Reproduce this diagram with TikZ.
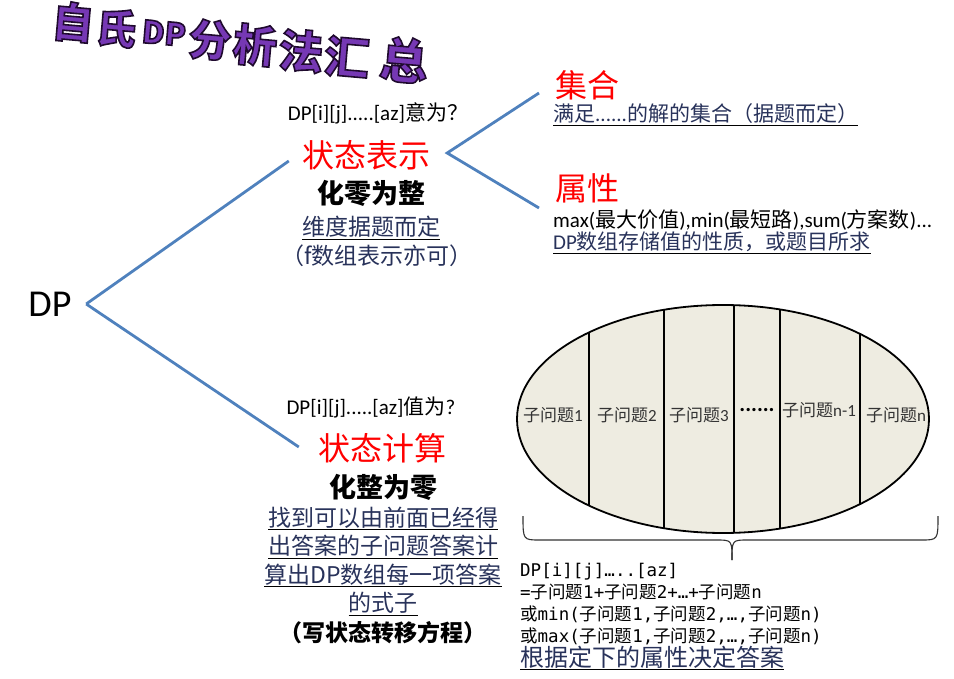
\documentclass[tikz,border=0pt]{standalone}
\usepackage{fontspec}
\setmainfont{Carlito}
\setmonofont{DejaVu Sans Mono}
\newfontfamily\cjk{Noto Sans CJK SC}
\newcommand{\zh}[1]{{\cjk #1}}
\newcommand{\subq}{\zh{子问题}}
\newcommand{\fsz}[2]{\fontsize{#1}{#2}\selectfont}
% outlined letters for the title
\newcommand{\outl}[1]{\special{pdf:literal direct 2 Tr 1.6 w 0.12 0.04 0.18 RG}#1\special{pdf:literal direct 0 Tr}}
\definecolor{lnblue}{RGB}{79,129,189}
\definecolor{txt}{RGB}{40,50,90}
\definecolor{ttl}{RGB}{118,56,180}
\definecolor{oval}{RGB}{238,236,225}
\newcommand{\undl}[1]{\underline{\textcolor{txt}{#1}}}
\begin{document}
\begin{tikzpicture}[x=1pt,y=-1pt,every node/.style={inner sep=0pt},
  br/.style={lnblue,line width=2.8pt},
  hd/.style={text=red,font=\cjk\fsz{32}{36}},
  bd/.style={font=\cjk\bfseries\fsz{27}{30}},
  ul/.style={font=\cjk\fsz{23}{28.5},align=center},
  sm/.style={font=\fsz{21}{24}},
  sq/.style={font=\cjk\fsz{17}{20},text=black!80}]
\useasboundingbox (0,0) rectangle (954,679);
% title
\foreach \ch/\x/\y/\s [count=\i] in {自/73/22/42,氏/116/28/41,DP/164/33/31,分/210/40/43,析/255/45/44,法/301/51/45,汇/347/57/45,总/404/60/48}
  \node[rotate=-5,ttl,font=\cjk\bfseries\fsz{\s}{\s}] (t\i) at (\x,\y) {\outl{\ch}};
% tree
\node[font=\fsz{38}{40}] (dp) at (50,304) {DP};
\node[sm] (repq) at (378,113) {DP[i][j].....[az]\zh{意为？}};
\node[hd] (rep) at (366,155) {状态表示};
\node[bd] (rep1) at (371,193) {化零为整};
\node[ul] (rep2) at (371,228) {\undl{维度据题而定}};
\node[ul,text=txt] (rep3) at (377,256) {（f数组表示亦可）};
\node[hd,anchor=west] (set) at (555,85) {集合};
\node[sm,anchor=west] (set1) at (553,115) {\undl{\zh{满足}......\zh{的解的集合（据题而定）}}};
\node[hd,anchor=west] (attr) at (555,188) {属性};
\node[sm,anchor=west] (attr1) at (553,220) {max(\zh{最大价值}),min(\zh{最短路}),sum(\zh{方案数})...};
\node[sm,anchor=west] (attr2) at (553,243) {\undl{DP\zh{数组存储值的性质，或题目所求}}};
\node[sm] (calcq) at (371,407) {DP[i][j].....[az]\zh{值为}?};
\node[hd] (calc) at (382,448) {状态计算};
\node[bd] (calc1) at (383,487) {化整为零};
\node[ul] (calc2) at (383,575) {\undl{找到可以由前面已经得}\\ \undl{出答案的子问题答案计}\\
  \undl{算出DP数组每一项答案}\\ \undl{的式子}\\[1pt] \bfseries （写状态转移方程）};
\draw[br] ([xshift=14.5pt]dp.east) -- ([shift={(-13,6)}]rep.west);
\draw[br] ([xshift=14.5pt]dp.east) -- ([shift={(-19,-1)}]calc.west);
\draw[br] ([shift={(-16,8)}]set.west) -- ([shift={(17,-2)}]rep.east) -- ([shift={(-16,20)}]attr.west);
% sub-problems
\fill[oval] (723,419) ellipse [x radius=206,y radius=114];
\begin{scope}
  \clip (723,419) ellipse [x radius=206,y radius=114];
  \foreach \x in {589,664,734,780,860} \draw[line width=2.8pt] (\x,300) -- (\x,540);
\end{scope}
\draw[line width=1.8pt] (723,419) ellipse [x radius=206,y radius=114];
\foreach \t/\x/\y [count=\i] in {1/553/415,2/627/415,3/699/415,n-1/819/410,n/896/415}
  \node[sq] (sub\i) at (\x,\y) {子问题{\rmfamily\t}};
\node[font=\bfseries\fsz{22}{22}] (dots) at (757,410) {......};
\draw[black!80,line width=1.1pt] (523,516) .. controls (523,540) .. (540,540) -- (716,540) .. controls (732,540) .. (732,560);
\draw[black!80,line width=1.1pt] (938,516) .. controls (938,540) .. (921,540) -- (748,540) .. controls (732,540) .. (732,560);
\node[anchor=north west,align=left,font=\ttfamily\fsz{17.5}{22}] (eq) at (520,563) {DP[i][j]…..[az]\\
  =\subq1+\subq2+…+\subq n\\ \zh{或}min(\subq1,\subq2,…,\subq n)\\ \zh{或}max(\subq1,\subq2,…,\subq n)};
\node[anchor=west,font=\cjk\fsz{24}{26}] (ans) at (520,658) {\undl{根据定下的属性决定答案}};
\end{tikzpicture}
\end{document}
